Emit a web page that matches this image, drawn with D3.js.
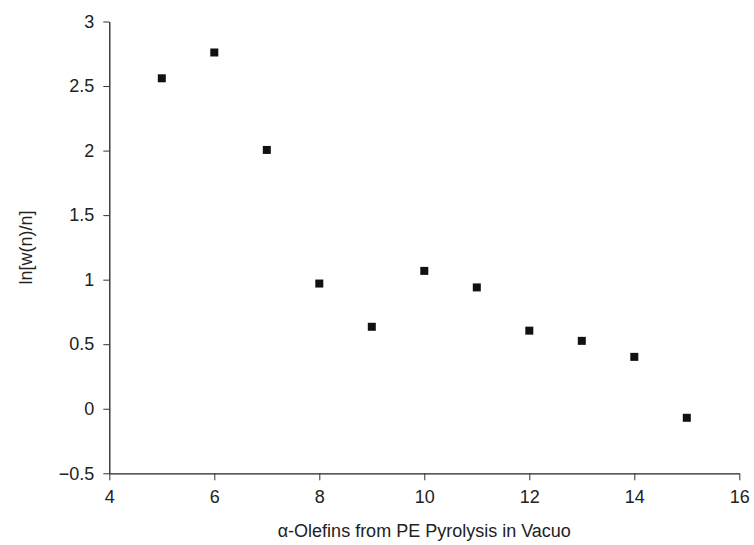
<!DOCTYPE html>
<html>
<head>
<meta charset="utf-8">
<script src="https://cdn.jsdelivr.net/npm/d3@7"></script>
<style>
  html, body { margin: 0; padding: 0; background: #fff; }
  svg text { font-family: "Liberation Sans", Arial, Helvetica, sans-serif; fill: #222; }
</style>
</head>
<body>
<svg id="chart" width="754" height="545"></svg>
<script>
const carbonNumbers = [5, 6, 7, 8, 9, 10, 11, 12, 13, 14, 15];
const lnValues = [2.56, 2.76, 2.005, 0.97, 0.635, 1.068, 0.94, 0.605, 0.526, 0.402, -0.07];
const xTicks = [4, 6, 8, 10, 12, 14, 16];
const yTicks = [-0.5, 0, 0.5, 1, 1.5, 2, 2.5, 3];
const xTitle = "\u03b1-Olefins from PE Pyrolysis in Vacuo";
const yTitle = "ln[w(n)/n]";

const svg = d3.select("#chart");
const x = d3.scaleLinear().domain([4, 16]).range([109.3, 739.3]);
const y = d3.scaleLinear().domain([-0.5, 3]).range([473.3, 21.5]);
const fmt = d => d < 0 ? "\u2212" + Math.abs(d) : String(d);

const xAxis = svg.append("g")
  .attr("transform", `translate(0,${y(-0.5)})`)
  .call(d3.axisBottom(x).tickValues(xTicks).tickFormat(fmt).tickSize(7).tickPadding(10).tickSizeOuter(0));
const yAxis = svg.append("g")
  .attr("transform", `translate(${x(4)},0)`)
  .call(d3.axisLeft(y).tickValues(yTicks).tickFormat(fmt).tickSize(6).tickPadding(9).tickSizeOuter(0));

[xAxis, yAxis].forEach(g => {
  g.selectAll("path.domain").attr("stroke", "#222").attr("stroke-width", 1.3);
  g.selectAll(".tick line").attr("stroke", "#333").attr("stroke-width", 1);
  g.selectAll(".tick text").style("font-size", "18px").attr("fill", "#222");
});

svg.append("g").selectAll("rect")
  .data(carbonNumbers.map((n, i) => ({ n, v: lnValues[i] })))
  .join("rect")
  .attr("x", d => x(d.n) - 4)
  .attr("y", d => y(d.v) - 4)
  .attr("width", 8)
  .attr("height", 8)
  .attr("fill", "#111");

svg.append("text")
  .attr("x", (x(4) + x(16)) / 2)
  .attr("y", 537)
  .attr("text-anchor", "middle")
  .style("font-size", "18px")
  .text(xTitle);

svg.append("text")
  .attr("transform", `translate(32,${(y(-0.5) + y(3)) / 2}) rotate(-90)`)
  .attr("text-anchor", "middle")
  .style("font-size", "18px")
  .text(yTitle);
</script>
</body>
</html>
